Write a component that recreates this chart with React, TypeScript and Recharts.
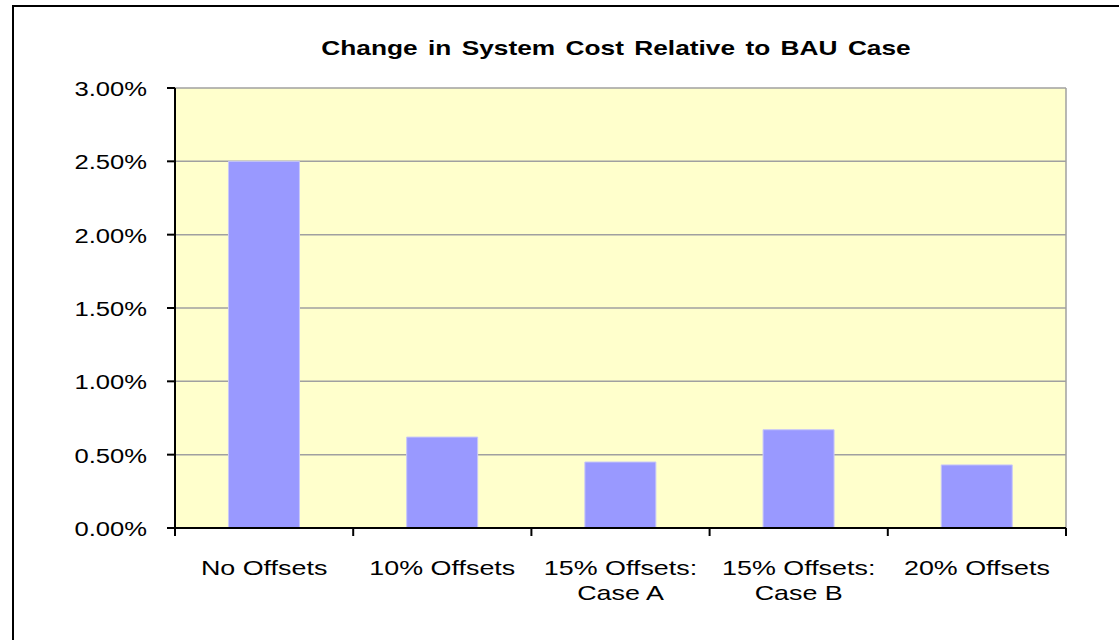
import React from 'react';
import { BarChart, Bar, XAxis, YAxis, CartesianGrid } from 'recharts';

const categories = ['No Offsets', '10% Offsets', '15% Offsets:\nCase A', '15% Offsets:\nCase B', '20% Offsets'];
const costChange = [2.5, 0.62, 0.45, 0.67, 0.43];
const yTicks = [0, 0.5, 1, 1.5, 2, 2.5, 3];
const title = 'Change in System Cost Relative to BAU Case';

const data = categories.map((c, i) => ({ category: c, value: costChange[i] }));

const FONT = '"Liberation Sans", Arial, Helvetica, sans-serif';

function YTick(props: any) {
  const { x, y, payload } = props;
  return (
    <g transform={`translate(${x},${y})`}>
      <text transform="scale(1.22,1)" textAnchor="end" dy={8} fontFamily={FONT} fontSize={21} fill="#000">
        {Number(payload.value).toFixed(2)}%
      </text>
    </g>
  );
}

function XTick(props: any) {
  const { x, y, payload, index, visibleTicksCount } = props;
  const half = payload.offset ?? 0;
  const lines = String(payload.value).split('\n');
  const isLast = index === visibleTicksCount - 1;
  return (
    <g>
      <line x1={x - half} x2={x - half} y1={y} y2={y + 8} stroke="#000" strokeWidth={2} />
      {isLast && <line x1={x + half} x2={x + half} y1={y} y2={y + 8} stroke="#000" strokeWidth={2} />}
      <g transform={`translate(${x},${y + 47})`}>
        <text transform="scale(1.28,1)" textAnchor="middle" fontFamily={FONT} fontSize={21} fill="#000">
          {lines.map((l, i) => (
            <tspan key={i} x={0} dy={i === 0 ? 0 : 25}>{l}</tspan>
          ))}
        </text>
      </g>
    </g>
  );
}

export default function App() {
  return (
    <div style={{ position: 'absolute', left: 0, top: 0, width: 1119, height: 640, overflow: 'hidden', background: '#fff' }}>
      <div style={{ position: 'absolute', left: 12, top: 5, width: 1300, height: 800, border: '2px solid #000' }} />
      <div
        style={{
          position: 'absolute', left: 116, top: 36, width: 1000, lineHeight: '24px', textAlign: 'center',
          fontFamily: FONT, fontWeight: 'bold', fontSize: 21, wordSpacing: 2.5, transform: 'scaleX(1.25)', transformOrigin: 'center', color: '#000',
        }}
      >
        {title}
      </div>
      <div style={{ position: 'absolute', left: 0, top: 0 }}>
        <BarChart width={1119} height={640} data={data} margin={{ top: 88, right: 53, bottom: 0, left: 0 }} barCategoryGap="30%">
          <CartesianGrid
            fill="#FFFFCC"
            stroke="#A0A0A0"
            strokeWidth={1.5}
            vertical={true}
            verticalCoordinatesGenerator={({ offset }: any) => [offset.left + offset.width]}
          />
          <XAxis
            dataKey="category"
            interval={0}
            height={112}
            tickLine={false}
            tickSize={0}
            tickMargin={0}
            axisLine={{ stroke: '#000', strokeWidth: 2 }}
            tick={<XTick />}
          />
          <YAxis
            domain={[0, 3]}
            ticks={yTicks}
            width={175}
            tickSize={8}
            tickMargin={20}
            axisLine={{ stroke: '#000', strokeWidth: 2 }}
            tickLine={{ stroke: '#000', strokeWidth: 2 }}
            tick={<YTick />}
          />
          <Bar dataKey="value" fill="#9999FF" stroke="#C8C8F8" strokeWidth={1} isAnimationActive={false} />
        </BarChart>
      </div>
    </div>
  );
}
